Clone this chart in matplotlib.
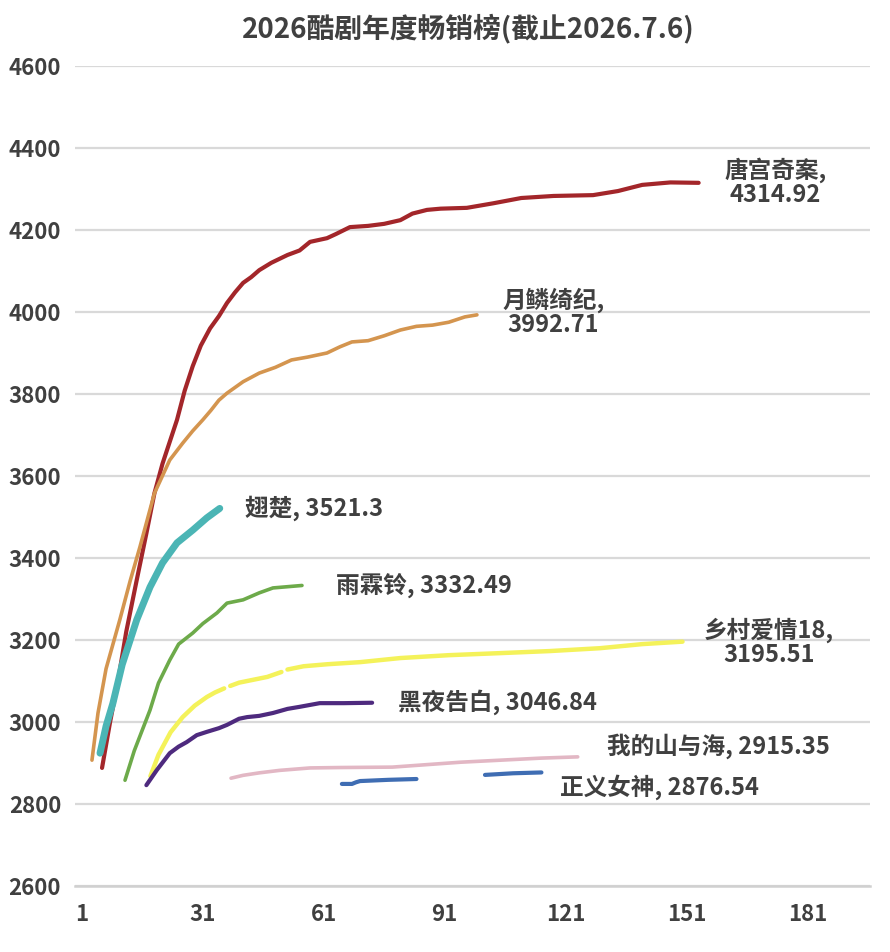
import numpy as np
import matplotlib
matplotlib.use("Agg")
import matplotlib.pyplot as plt

plt.rcParams['font.family'] = ['Noto Sans CJK SC', 'DejaVu Sans']

title = "2026酷剧年度畅销榜(截止2026.7.6)"

# 唐宫奇案
tang_days = [6, 8, 10, 12, 14.6, 17, 19, 21, 24.6, 26.5, 28.5, 30.5, 32.8, 35, 37, 39, 41, 43, 45, 48,
             52, 55, 57.6, 61.8, 64, 67.5, 72, 76, 80, 83, 86.6, 90, 96.5, 103, 110, 118, 127.8, 134,
             140, 147, 154]
tang_vals = [2888, 3000, 3102, 3220, 3346, 3460, 3558, 3630, 3737, 3808, 3868, 3918, 3960, 3990, 4022,
             4048, 4071, 4085, 4102, 4120, 4139, 4150, 4171, 4180, 4190, 4207, 4210, 4215, 4224, 4240,
             4249, 4252, 4254, 4265, 4278, 4283, 4285, 4295, 4310, 4316, 4315]

# 月鳞绮纪
yue_days = [3.5, 5, 7, 10.4, 13, 15.4, 19, 22.8, 26, 28.5, 31, 33, 35, 37, 41, 45, 49, 53, 57, 61.8,
            65, 68, 72, 76, 80, 84, 88, 92, 96, 99]
yue_vals = [2907, 3022, 3130, 3249, 3345, 3427, 3558, 3639, 3680, 3710, 3737, 3760, 3785, 3802, 3830,
            3851, 3865, 3883, 3890, 3900, 3915, 3927, 3930, 3942, 3956, 3965, 3968, 3975, 3988, 3993]

# 翅楚
chi_days = [5.5, 7, 8.7, 11, 14.6, 17.9, 21, 24.6, 28.5, 32, 35.2]
chi_vals = [2924, 2990, 3046, 3140, 3249, 3329, 3388, 3437, 3468, 3498, 3521]

# 雨霖铃
yu_days = [11.7, 14, 17.9, 20, 22.8, 25, 28.5, 31, 34.5, 37, 41, 45, 48.4, 52, 55.6]
yu_vals = [2858, 2930, 3029, 3095, 3151, 3190, 3217, 3240, 3266, 3290, 3298, 3315, 3327, 3330, 3333]

# 乡村爱情18 (two short breaks in the line)
xc_days = [18, 20, 23, 26, 29, 32, 34, 36.3, 37, 37.8, 40, 44, 47, 50.5, 51.3, 52, 56, 62, 70, 80,
           92, 104.7, 117, 129.5, 140, 150]
xc_vals = [2868, 2920, 2975, 3012, 3040, 3061, 3072, 3082, np.nan, 3088, 3096, 3104, 3110, 3122,
           np.nan, 3128, 3136, 3141, 3146, 3156, 3163, 3168, 3173, 3180, 3190, 3196]

# 黑夜告白
hy_days = [17, 19.6, 22.8, 25, 27, 29.5, 32, 35, 37, 40, 42, 45, 48.4, 52, 55, 60, 66, 73]
hy_vals = [2846, 2883, 2924, 2940, 2951, 2968, 2976, 2985, 2993, 3008, 3012, 3015, 3022, 3032, 3037,
           3046, 3046, 3047]

# 我的山与海
ws_days = [38, 41, 45, 50, 57.6, 65, 78, 95, 105, 115, 124]
ws_vals = [2863, 2870, 2876, 2882, 2888, 2889, 2890, 2902, 2907, 2912, 2915]

# 正义女神
zy_days = [65.5, 68, 69, 70, 77, 84, 92, 101, 108, 115]
zy_vals = [2849, 2849, 2853, 2856, 2859, 2861, np.nan, 2871, 2875, 2877]

series = [
    (tang_days, tang_vals, "#A3262A", 3.0),
    (yue_days, yue_vals, "#D4954F", 2.6),
    (chi_days, chi_vals, "#4BB5B5", 5.0),
    (yu_days, yu_vals, "#6DAA4A", 2.6),
    (xc_days, xc_vals, "#F4F25A", 3.2),
    (hy_days, hy_vals, "#4E2A7E", 3.0),
    (ws_days, ws_vals, "#E2B7C4", 2.6),
    (zy_days, zy_vals, "#3F6DB3", 3.0),
]

# labels: text, x, y, alignment
labels = [
    ("唐宫奇案,\n4314.92", 173, 4317, "center"),
    ("月鳞绮纪,\n3992.71", 118, 4000, "center"),
    ("翅楚, 3521.3", 41.4, 3522, "left"),
    ("雨霖铃, 3332.49", 64, 3334, "left"),
    ("乡村爱情18,\n3195.51", 171.5, 3195, "center"),
    ("黑夜告白, 3046.84", 79.4, 3049, "left"),
    ("我的山与海, 2915.35", 131.3, 2941, "left"),
    ("正义女神, 2876.54", 119.6, 2841, "left"),
]

xticks = [1, 31, 61, 91, 121, 151, 181]
yticks = list(range(2600, 4601, 200))

fig = plt.figure(figsize=(8.9, 9.52), dpi=100)
ax = fig.add_axes([0.0843, 0.0693, 0.8932, 0.8614])

for d, v, c, lw in series:
    ax.plot(d, v, color=c, lw=lw, solid_capstyle="round", solid_joinstyle="round", zorder=3)

txt_color = "#404040"
for t, x, y, ha in labels:
    ax.text(x, y, t, ha=ha, va="center", fontsize=17, fontweight="bold",
            color=txt_color, linespacing=1.0, zorder=4)

ax.set_xlim(-0.7, 196.5)
ax.set_ylim(2600, 4600)
ax.set_xticks(xticks)
ax.set_yticks(yticks)
ax.grid(axis="y", color="#D9D9D9", lw=1.6, zorder=0)
ax.tick_params(length=0, labelsize=16, colors=txt_color, pad=12)
ax.tick_params(axis="y", pad=10)
for lab in ax.get_xticklabels() + ax.get_yticklabels():
    lab.set_fontweight("bold")
for s in ["top", "right", "left"]:
    ax.spines[s].set_visible(False)
ax.spines["bottom"].set_color("#D0D0D0")
ax.spines["bottom"].set_linewidth(1.8)
ax.set_axisbelow(True)

fig.text(0.526, 0.970, title, ha="center", va="center", fontsize=20,
         fontweight="bold", color=txt_color)

fig.savefig("out.png", dpi=100)
